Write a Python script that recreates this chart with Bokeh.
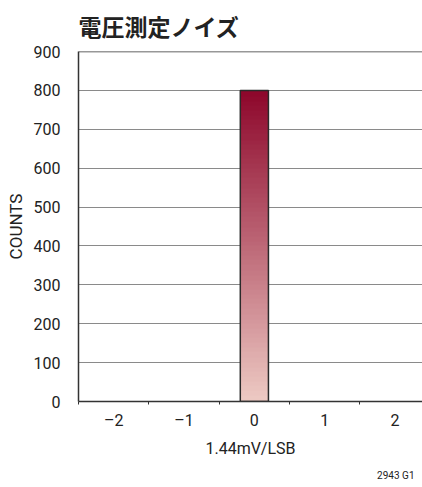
import numpy as np
from bokeh.plotting import figure
from bokeh.models import (Range1d, FixedTicker, LinearColorMapper, Span, Title)
from bokeh.embed import file_html
from bokeh.resources import INLINE

# ---- data ----
categories = [-2, -1, 0, 1, 2]
x_labels = ["\u20132", "\u20131", "0", "1", "2"]
counts = [0, 0, 800, 0, 0]
y_ticks = [0, 100, 200, 300, 400, 500, 600, 700, 800, 900]
title_text = "電圧測定ノイズ"
x_title = "1.44mV/LSB"
y_title = "COUNTS"
note_text = "2943 G1"

NUM_FONT = "Roboto"
BAR_W = 0.4
Y_MAX = 900

p = figure(width=422, height=487, output_backend="svg", toolbar_location=None,
           x_range=Range1d(-2.5, 2.39), y_range=Range1d(0, Y_MAX),
           min_border_left=78, min_border_right=0, min_border_top=51,
           min_border_bottom=85)
p.background_fill_color = "white"
p.border_fill_color = "white"
p.outline_line_color = None

# title
p.title.text = title_text
p.title.text_font = "Noto Sans CJK JP"
p.title.text_font_size = "23px"
p.title.text_font_style = "bold"
p.title.text_color = "#222222"
p.title.align = "left"
p.title.vertical_align = "top"
p.title.standoff = 14

# gradient palette (bottom light -> top dark)
c0 = np.array([236, 200, 194])
c1 = np.array([142, 8, 44])
palette = []
for t in np.linspace(0, 1, 64):
    c = (c0 + (c1 - c0) * t).round().astype(int)
    palette.append("#%02x%02x%02x" % tuple(c))
mapper = LinearColorMapper(palette=palette, low=0, high=1)

for cat, cnt in zip(categories, counts):
    if cnt > 0:
        grad = np.linspace(0, 1, 200).reshape(200, 1)
        p.image(image=[grad], x=cat - BAR_W / 2, y=0, dw=BAR_W, dh=cnt,
                color_mapper=mapper)

# grid
p.xgrid.grid_line_color = None
p.ygrid.grid_line_color = "#8a8a8a"
p.ygrid.grid_line_width = 1.2
p.ygrid.ticker = FixedTicker(ticks=y_ticks)

bar_x = [c for c, n in zip(categories, counts) if n > 0]
bar_top = [n for n in counts if n > 0]
p.vbar(x=bar_x, top=bar_top, width=BAR_W, fill_color=None,
       line_color="#2a2a2a", line_width=1.5)

p.add_layout(Span(location=Y_MAX, dimension="width", line_color="#333333",
                  line_width=1.5))

# y axis
ya = p.yaxis[0]
ya.ticker = FixedTicker(ticks=y_ticks)
ya.axis_line_color = "#333333"
ya.axis_line_width = 1.5
ya.major_tick_line_color = None
ya.minor_tick_line_color = None
ya.major_label_text_font = NUM_FONT
ya.major_label_text_font_size = "16px"
ya.major_label_text_color = "#222222"
ya.major_label_standoff = 12
ya.axis_label = y_title
ya.axis_label_text_font = NUM_FONT
ya.axis_label_text_font_size = "17px"
ya.axis_label_text_font_style = "normal"
ya.axis_label_text_color = "#222222"
ya.axis_label_standoff = 5

# x axis
minor = [c - 0.5 for c in categories]
xa = p.xaxis[0]
xa.ticker = FixedTicker(ticks=categories, minor_ticks=minor)
xa.major_label_overrides = {c: l for c, l in zip(categories, x_labels)}
xa.axis_line_color = "#333333"
xa.axis_line_width = 1.5
xa.major_tick_line_color = None
xa.minor_tick_line_color = "#333333"
xa.minor_tick_out = 3
xa.minor_tick_in = 0
xa.major_label_text_font = NUM_FONT
xa.major_label_text_font_size = "16px"
xa.major_label_text_color = "#222222"
xa.major_label_standoff = 3
xa.axis_label = x_title
xa.axis_label_text_font = NUM_FONT
xa.axis_label_text_font_size = "16px"
xa.axis_label_text_font_style = "normal"
xa.axis_label_text_color = "#222222"
xa.axis_label_standoff = 6

note = Title(text=note_text, align="right", text_font=NUM_FONT,
             text_font_size="10px", text_font_style="normal",
             text_color="#222222", offset=8, standoff=14)
p.add_layout(note, "below")

open("out.html", "w").write(file_html(p, INLINE))
